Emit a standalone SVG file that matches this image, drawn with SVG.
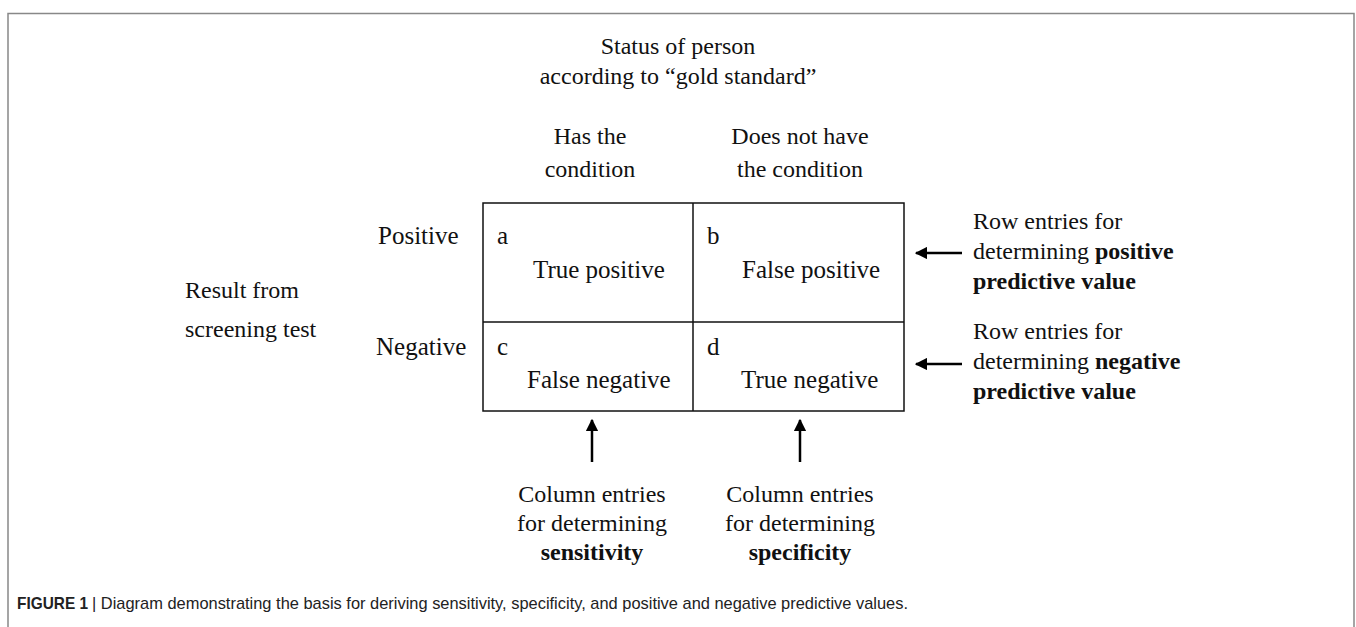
<svg xmlns="http://www.w3.org/2000/svg" width="1356" height="627" viewBox="0 0 1356 627">
<defs>
<style>
.t{font-family:"Liberation Serif","Times New Roman",serif;font-size:24px;fill:#111}
.c{font-size:25px}
.m{text-anchor:middle}
.b{font-weight:bold}
.cap{font-family:"Liberation Sans Narrow","Liberation Sans",Arial,sans-serif;font-size:17px;fill:#222}
.ln{stroke:#111;stroke-width:1.5;fill:none}
.ar{stroke:#000;stroke-width:2.5;fill:none}
</style>
<marker id="ah" viewBox="0 0 10 10" refX="9" refY="5" markerWidth="5" markerHeight="5" orient="auto" markerUnits="strokeWidth">
<path d="M0,0 L10,5 L0,10 Z" fill="#000"/>
</marker>
</defs>
<rect width="1356" height="627" fill="#fff"/>
<path d="M8,640 V13.5 H1354 V640" stroke="#888" stroke-width="1.5" fill="none"/>
<g id="header">
<text class="t m" x="678" y="54">Status of person</text>
<text class="t m" x="678" y="84">according to “gold standard”</text>
</g>
<g id="col-has">
<text class="t m" x="590" y="144">Has the</text>
<text class="t m" x="590" y="177">condition</text>
</g>
<g id="col-hasnot">
<text class="t m" x="800" y="144">Does not have</text>
<text class="t m" x="800" y="177">the condition</text>
</g>
<g id="row-label">
<text class="t" x="185" y="298">Result from</text>
<text class="t" x="185" y="337">screening test</text>
</g>
<g id="row-pos"><text class="t c" x="378" y="244">Positive</text></g>
<g id="row-neg"><text class="t c" x="376" y="355">Negative</text></g>
<g id="table">
<rect class="ln" x="483" y="203" width="421" height="208"/>
<line class="ln" x1="693" y1="203" x2="693" y2="411"/>
<line class="ln" x1="483" y1="322" x2="904" y2="322"/>
</g>
<g id="cell-a"><text class="t c" x="497" y="244">a</text><text class="t c" x="533" y="278">True positive</text></g>
<g id="cell-b"><text class="t c" x="707" y="244">b</text><text class="t c" x="742" y="278">False positive</text></g>
<g id="cell-c"><text class="t c" x="497" y="355">c</text><text class="t c" x="527" y="388">False negative</text></g>
<g id="cell-d"><text class="t c" x="707" y="355">d</text><text class="t c" x="741" y="388">True negative</text></g>
<g id="connectors">
<line class="ar" x1="962" y1="253" x2="916" y2="253" marker-end="url(#ah)"/>
<line class="ar" x1="962" y1="364" x2="916" y2="364" marker-end="url(#ah)"/>
<line class="ar" x1="592" y1="462" x2="592" y2="420" marker-end="url(#ah)"/>
<line class="ar" x1="800" y1="462" x2="800" y2="420" marker-end="url(#ah)"/>
</g>
<g id="note-ppv">
<text class="t" x="973" y="229">Row entries for</text>
<text class="t" x="973" y="259">determining <tspan class="b">positive</tspan></text>
<text class="t b" x="973" y="289">predictive value</text>
</g>
<g id="note-npv">
<text class="t" x="973" y="339">Row entries for</text>
<text class="t" x="973" y="369">determining <tspan class="b">negative</tspan></text>
<text class="t b" x="973" y="399">predictive value</text>
</g>
<g id="note-sens">
<text class="t m" x="592" y="502">Column entries</text>
<text class="t m" x="592" y="531">for determining</text>
<text class="t m b" x="592" y="560">sensitivity</text>
</g>
<g id="note-spec">
<text class="t m" x="800" y="502">Column entries</text>
<text class="t m" x="800" y="531">for determining</text>
<text class="t m b" x="800" y="560">specificity</text>
</g>
<g id="caption">
<text class="cap b" x="17" y="609" textLength="71" lengthAdjust="spacingAndGlyphs">FIGURE 1</text>
<text class="cap" x="92" y="609" textLength="816" lengthAdjust="spacingAndGlyphs">| Diagram demonstrating the basis for deriving sensitivity, specificity, and positive and negative predictive values.</text>
</g>
</svg>
